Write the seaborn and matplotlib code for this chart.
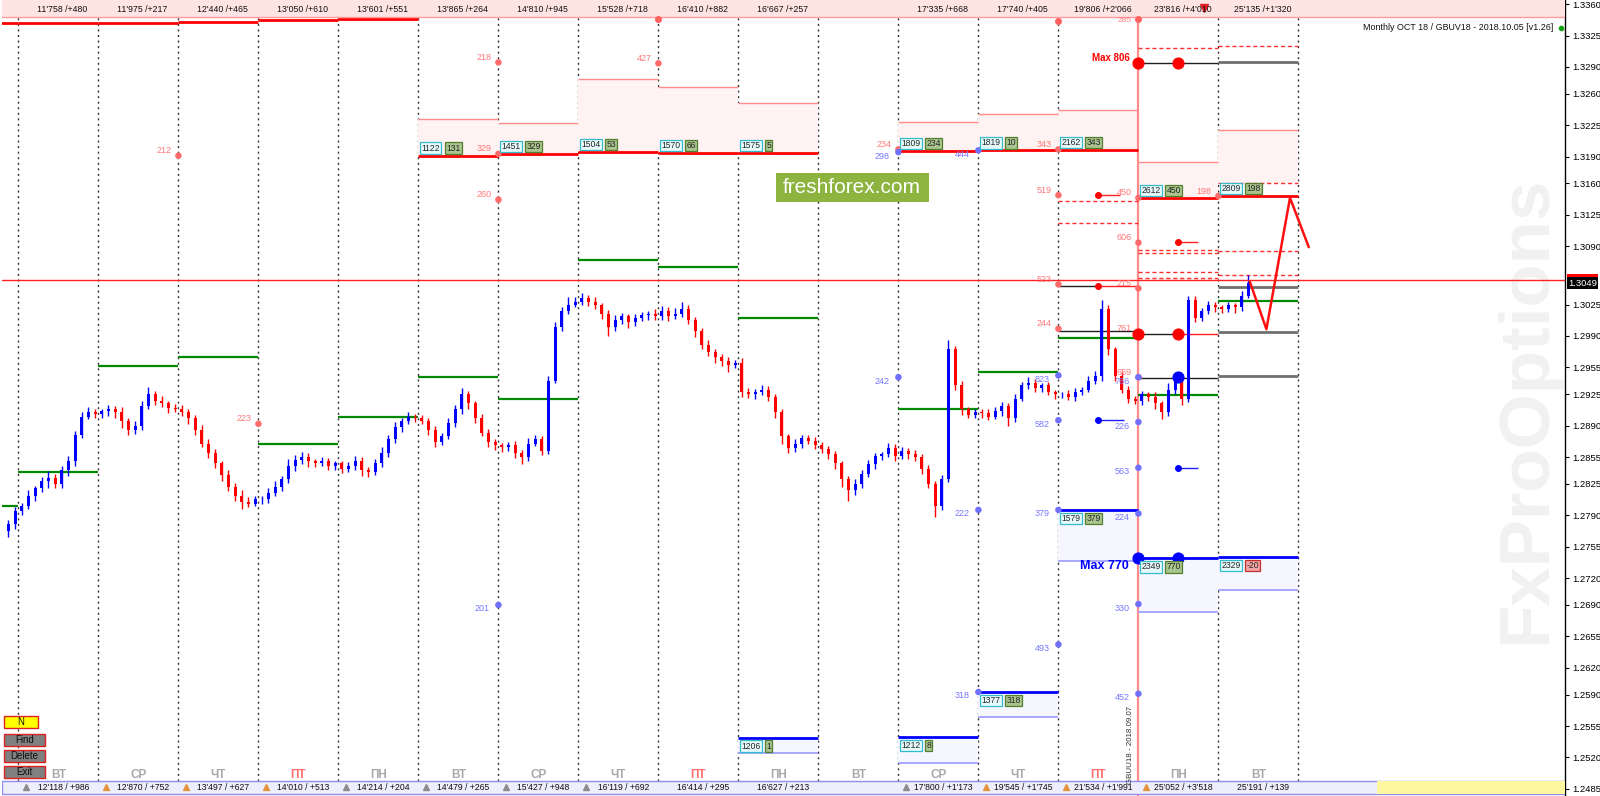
import numpy as np
import pandas as pd
import seaborn as sns
import matplotlib.pyplot as plt
from matplotlib.patches import Rectangle
import matplotlib.transforms as mtransforms

sns.set_style("white")
plt.rcParams['font.family'] = ['Liberation Sans', 'DejaVu Sans']

# --- candles: 2h bars, prices in pips (price * 10000) ---
first_open = 12772
closes = [
    12780, 12795,
    12800, 12812, 12820, 12828, 12832, 12825, 12840, 12850, 12880, 12900, 12905, 12903,
    12906, 12908, 12905, 12895, 12885, 12890, 12912, 12925, 12918, 12915, 12910, 12908,
    12905, 12898, 12885, 12870, 12860, 12848, 12835, 12822, 12812, 12805, 12803, 12808,
    12808, 12815, 12822, 12830, 12845, 12852, 12855, 12850, 12848, 12850, 12845, 12848,
    12842, 12845, 12850, 12840, 12838, 12848, 12860, 12875, 12888, 12895, 12900, 12898,
    12895, 12885, 12872, 12878, 12893, 12908, 12925, 12915, 12898, 12882, 12872, 12868,
    12866, 12868, 12860, 12855, 12870, 12875, 12862, 12940, 13000, 13018, 13025, 13028,
    13032, 13028, 13024, 13015, 13000, 13008, 13012, 13005, 13010, 13013, 13015, 13012,
    13018, 13012, 13015, 13020, 13008, 12995, 12980, 12972, 12966, 12962, 12958, 12960,
    12928, 12925, 12928, 12930, 12922, 12905, 12878, 12865, 12870, 12876, 12873, 12868,
    12864, 12858, 12848, 12830, 12818, 12825, 12836, 12847, 12856, 12858, 12865, 12856,
    12862, 12858, 12855, 12842, 12825, 12800, 12830, 12975, 12935, 12908, 12902, 12905,
    12904, 12900, 12906, 12912, 12898, 12920, 12935, 12938, 12932, 12935, 12927, 12925,
    12925, 12922, 12928, 12930, 12940, 12945, 13020, 12975, 12945, 12930, 12920, 12918,
    12925, 12922, 12915, 12905, 12930, 12940, 12920, 13030, 13010, 13018, 13025, 13022,
    13020, 13024, 13022, 13035, 13049,
]
wick_up = [
    5, 4,
    4, 6, 3, 5, 7, 4, 5, 6, 4, 5, 6, 3,
    3, 5, 4, 6, 4, 5, 6, 8, 4, 5, 3, 4,
    5, 3, 4, 6, 5, 4, 3, 5, 4, 6, 5, 4,
    4, 5, 6, 4, 8, 5, 6, 4, 3, 5, 4, 3,
    3, 4, 6, 5, 4, 5, 6, 5, 6, 4, 5, 3,
    4, 3, 5, 4, 6, 5, 7, 4, 3, 5, 4, 3,
    3, 4, 5, 3, 6, 4, 3, 5, 6, 4, 8, 5,
    6, 4, 5, 3, 4, 5, 4, 3, 5, 4, 3, 5,
    5, 4, 6, 8, 4, 3, 4, 5, 3, 4, 5, 3,
    5, 4, 3, 5, 4, 3, 4, 3, 5, 4, 3, 4,
    4, 3, 4, 3, 4, 5, 4, 5, 4, 3, 6, 4,
    4, 3, 5, 3, 4, 3, 5, 10, 4, 5, 3, 4,
    3, 4, 5, 4, 3, 5, 4, 6, 4, 3, 4, 3,
    3, 5, 4, 3, 5, 6, 10, 4, 3, 5, 4, 3,
    4, 3, 5, 3, 8, 4, 3, 5, 4, 3, 4, 3,
    3, 4, 3, 5, 9,
]
wick_dn = [
    6, 5,
    5, 3, 6, 4, 8, 5, 4, 6, 5, 4, 3, 5,
    4, 5, 6, 8, 6, 4, 5, 3, 5, 4, 6, 3,
    4, 6, 5, 4, 6, 5, 7, 5, 6, 8, 4, 3,
    5, 4, 3, 5, 4, 6, 5, 6, 4, 3, 5, 4,
    5, 4, 4, 6, 5, 3, 4, 5, 4, 5, 3, 4,
    3, 6, 6, 4, 3, 4, 5, 6, 5, 4, 6, 5,
    5, 4, 6, 8, 4, 3, 5, 4, 3, 5, 4, 3,
    4, 5, 4, 6, 10, 4, 5, 6, 4, 3, 5, 4,
    4, 5, 3, 4, 5, 6, 5, 4, 6, 5, 8, 4,
    6, 4, 5, 4, 5, 6, 8, 6, 4, 5, 3, 4,
    4, 5, 6, 8, 12, 5, 4, 3, 5, 4, 3, 5,
    3, 5, 4, 6, 5, 12, 4, 3, 5, 6, 4, 3,
    5, 4, 3, 5, 8, 4, 3, 4, 5, 4, 3, 5,
    4, 3, 5, 4, 3, 4, 5, 6, 5, 4, 5, 4,
    5, 4, 6, 8, 4, 5, 7, 4, 5, 3, 4, 5,
    4, 3, 6, 4, 3,
]

day_names = ['ВТ', 'СР', 'ЧТ', 'ПТ', 'ПН', 'ВТ', 'СР', 'ЧТ', 'ПТ', 'ПН',
             'ВТ', 'СР', 'ЧТ', 'ПТ', 'ПН', 'ВТ']
top_labels = ["11'758 /+480", "11'975 /+217", "12'440 /+465", "13'050 /+610",
              "13'601 /+551", "13'865 /+264", "14'810 /+945", "15'528 /+718",
              "16'410 /+882", "16'667 /+257", "", "17'335 /+668", "17'740 /+405",
              "19'806 /+2'066", "23'816 /+4'010", "25'135 /+1'320"]
bottom_labels = ["12'118 / +986", "12'870 / +752", "13'497 / +627", "14'010 / +513",
                 "14'214 / +204", "14'479 / +265", "15'427 / +948", "16'119 / +692",
                 "16'414 / +295", "16'627 / +213", "", "17'800 / +1'173",
                 "19'545 / +1'745", "21'534 / +1'991", "25'052 / +3'518", "25'191 / +139"]
bottom_arrows = ['g', 'o', 'o', 'o', 'g', 'g', 'g', 'g', '', '', '', 'g', 'o', 'o', 'o', '']

# daily open (green) levels
green_days = [-1, 0, 1, 2, 3, 4, 5, 6, 7, 8, 9, 11, 12, 13, 14, 15]
green_pips = [12800, 12838, 12956, 12967, 12869, 12900, 12944, 12920, 13075, 13067,
              13010, 12909, 12950, 12988, 12924, 13029]

# top step lines (cut by the header)
top_days = [-1, 0, 1, 2, 3, 4]
top_pips = [13339, 13339.5, 13339.5, 13340.5, 13342.5, 13343]

# sell zones
sell_days = [5, 6, 7, 8, 9, 11, 12, 13, 14, 15]
sell_level = [13191, 13193, 13195, 13194, 13194, 13196, 13197, 13197.5, 13144, 13146]
sell_top = [13232, 13227, 13277, 13268, 13250, 13229, 13237, 13242, 13184, 13219.5]
sell_fill_to = [13191, 13193, 13195, 13194, 13194, 13196, 13197, 13197.5, 13144, 13161]
sell_count = ['1122', '1451', '1504', '1570', '1575', '1809', '1819', '2162', '2612', '2809']
sell_delta = ['131', '329', '53', '66', '5', '234', '10', '343', '450', '198']

# buy zones
buy_days = [9, 11, 12, 13, 14, 15]
buy_level = [12542, 12543, 12593, 12796, 12742, 12743.5]
buy_bottom = [12525, 12514, 12565, 12739, 12682, 12707]
buy_count = ['1206', '1212', '1377', '1579', '2349', '2329']
buy_delta = ['1', '8', '318', '379', '770', '-20']

# option strike markers on day separators
red_mark_day = [2, 3, 6, 6, 6, 8, 11, 13, 13, 13, 13, 14, 14, 14, 14, 14, 15]
red_mark_pips = [13191, 12892, 13295, 13193, 13142, 13294, 13198, 13198, 13147, 13047.5,
                 12998, 13094, 13043, 12992.5, 12944, 13144, 13146]
red_mark_text = ['212', '223', '218', '329', '260', '427', '234', '343', '519', '523',
                 '244', '606', '215', '761', '659', '450', '198']
blue_mark_day = [6, 11, 11, 12, 12, 12, 13, 13, 13, 13, 14, 14, 14, 14, 14, 14]
blue_mark_pips = [12690, 12944, 13195, 13197, 12796, 12593, 12946, 12896, 12796, 12646,
                  12944, 12894, 12843, 12792, 12691, 12591]
blue_mark_text = ['201', '242', '298', '444', '222', '318', '823', '582', '379', '493',
                  '766', '226', '563', '224', '330', '452']

# short level segments (day from, day to, pips)
black_segs = [(13, 13.49, 13046), (13, 14, 12996), (14, 15, 13294), (14, 14.49, 12992.5),
              (14, 15, 12942.6)]
gray_segs = [(15, 16, 13295), (15, 16, 13044.5), (15, 16, 12994.3), (15, 16, 12945)]
red_segs = [(13.49, 14, 13046), (13.49, 13.77, 13147), (14.49, 14.74, 13095),
            (14.49, 15, 12992.5)]
blue_segs = [(13.49, 13.82, 12896), (14.49, 14.74, 12843)]
dashed_segs = [(13, 14, 13141), (13, 14, 13116), (14, 15, 13086), (14, 15, 13083),
               (14, 15, 13061), (14, 15, 13055), (15, 16, 13084.5), (15, 16, 13058),
               (14, 15, 13311), (15, 16, 13313), (15, 16, 13161)]
big_red_day = [14, 14.49, 14, 14.49]
big_red_pips = [13294, 13294, 12992.5, 12992.5]
big_blue_day = [14.49, 14, 14.49]
big_blue_pips = [12944, 12742, 12742]

# forecast path
fc_day = [15.395, 15.6, 15.895, 16.13]
fc_pips = [13050, 12997.5, 13144, 13089]

ask_pips, bid_pips = 13052, 13049
ytick_labels = ['1.3360', '1.3325', '1.3290', '1.3260', '1.3225', '1.3190', '1.3160',
                '1.3125', '1.3090', '1.3025', '1.2990', '1.2955', '1.2925', '1.2890',
                '1.2855', '1.2825', '1.2790', '1.2755', '1.2720', '1.2690', '1.2655',
                '1.2620', '1.2590', '1.2555', '1.2520', '1.2485']

P = 1e4
W, H = 1600, 796
fig = plt.figure(figsize=(W / 100, H / 100), dpi=100)
ax = fig.add_axes([2 / W, 0, 1563 / W, 1])
ax.set_xlim((2 - 18.4) / 80, (1565 - 18.4) / 80)
ax.set_ylim(12477.0 / P, 13364.6 / P)
bt = mtransforms.blended_transform_factory(ax.transData, ax.transAxes)


def fy(py):
    return 1 - py / H


# watermark and separators
ax.text(1527 / W, fy(410), 'FxProOptions', transform=fig.transFigure, rotation=90,
        fontsize=51, fontweight='bold', color='#f1f1f1', ha='center', va='center',
        zorder=0.5, clip_on=True)
for d in range(17):
    if d == 14:
        ax.axvline(d, color='#ff8a8a', lw=1.6, zorder=2)
    else:
        ax.axvline(d, ymin=fy(781), ymax=fy(17), color='#333333', lw=1,
                   linestyle=(0, (1.5, 2.5)), zorder=1)

# zones
for d, lv, tp, ft, c, dl in zip(sell_days, sell_level, sell_top, sell_fill_to, sell_count, sell_delta):
    ax.fill_between([d, d + 1], tp / P, ft / P, color='#fff2f2', lw=0, zorder=1)
    ax.hlines(tp / P, d, d + 1, color='#ff8c8c', lw=1, zorder=2)
    ax.hlines(lv / P, d, d + 1, color='#ff0000', lw=2, zorder=3)
    ax.annotate(c, xy=(d, lv / P), xytext=(3, 3), textcoords='offset pixels', ha='left',
                va='bottom', fontsize=6.2, zorder=8,
                bbox=dict(boxstyle='square,pad=0.15', fc='#e6fafc', ec='#35bccc', lw=0.9))
    ax.annotate(dl, xy=(d, lv / P), xytext=(28, 3), textcoords='offset pixels', ha='left',
                va='bottom', fontsize=6.2, zorder=8,
                bbox=dict(boxstyle='square,pad=0.15', fc='#a9c48c', ec='#4f7f2f', lw=0.9))
for d, lv, bm, c, dl in zip(buy_days, buy_level, buy_bottom, buy_count, buy_delta):
    ax.fill_between([d, d + 1], lv / P, bm / P, color='#f6f6ff', lw=0, zorder=1)
    ax.hlines(bm / P, d, d + 1, color='#9a9aff', lw=1.2, zorder=2)
    ax.hlines(lv / P, d, d + 1, color='#0000ff', lw=2, zorder=3)
    neg = dl.startswith('-')
    ax.annotate(c, xy=(d, lv / P), xytext=(3, -4), textcoords='offset pixels', ha='left',
                va='top', fontsize=6.2, zorder=8,
                bbox=dict(boxstyle='square,pad=0.15', fc='#e6fafc', ec='#35bccc', lw=0.9))
    ax.annotate(dl, xy=(d, lv / P), xytext=(28, -4), textcoords='offset pixels', ha='left',
                va='top', fontsize=6.2, zorder=8,
                bbox=dict(boxstyle='square,pad=0.15', fc='#f3a3a3' if neg else '#a9c48c',
                          ec='#c03030' if neg else '#4f7f2f', lw=0.9))

for d, pp in zip(green_days, green_pips):
    ax.hlines(pp / P, max(d, -0.25), d + 1, color='#008a00', lw=1.6, zorder=3)
for d, pp in zip(top_days, top_pips):
    ax.hlines(pp / P, max(d, -0.25), d + 1, color='#ff0000', lw=2, zorder=3)

for a, b, pp in black_segs:
    ax.hlines(pp / P, a, b, color='#202020', lw=1, zorder=3)
for a, b, pp in gray_segs:
    ax.hlines(pp / P, a, b, color='#707070', lw=2, zorder=3)
for a, b, pp in red_segs:
    ax.hlines(pp / P, a, b, color='#ff2020', lw=1, zorder=3)
    ax.plot(a, pp / P, 'o', color='#ff0000', ms=4, zorder=6)
for a, b, pp in blue_segs:
    ax.hlines(pp / P, a, b, color='#2020ff', lw=1, zorder=3)
    ax.plot(a, pp / P, 'o', color='#0000ff', ms=4, zorder=6)
for a, b, pp in dashed_segs:
    ax.hlines(pp / P, a, b, color='#ff3030', lw=1, linestyles=(0, (3, 2)), zorder=3)

# candles
df = pd.DataFrame({'close': np.array(closes) / P})
df['open'] = np.r_[first_open / P, df['close'].values[:-1]]
df['high'] = df[['open', 'close']].max(axis=1) + np.array(wick_up) / P
df['low'] = df[['open', 'close']].min(axis=1) - np.array(wick_dn) / P
df['x'] = (np.arange(len(df)) - 1.5) / 12
col = np.where(df['close'] >= df['open'], '#0000ff', '#ff0000')
body = (df['close'] - df['open']).where((df['close'] - df['open']).abs() > 0, 0.00004)
ax.vlines(df['x'], df['low'], df['high'], colors=col, lw=1, zorder=4)
ax.bar(df['x'], body, bottom=df['open'], width=0.036, color=col, lw=0, zorder=5)

# current price
ax.axhline(ask_pips / P, color='#ff2020', lw=1, zorder=6)

# markers
mk = pd.DataFrame({'d': red_mark_day, 'y': np.array(red_mark_pips) / P})
sns.scatterplot(data=mk, x='d', y='y', color='#ff6a6a', s=22, edgecolor='none', ax=ax, zorder=6)
for d, pp, t in zip(red_mark_day, red_mark_pips, red_mark_text):
    ax.annotate(t, xy=(d, pp / P), xytext=(-7, 5), textcoords='offset pixels', ha='right',
                va='center', fontsize=6.5, color='#ff7878', zorder=7)
mk = pd.DataFrame({'d': blue_mark_day, 'y': np.array(blue_mark_pips) / P})
sns.scatterplot(data=mk, x='d', y='y', color='#7070ff', s=22, edgecolor='none', ax=ax, zorder=6)
for d, pp, t in zip(blue_mark_day, blue_mark_pips, blue_mark_text):
    ax.annotate(t, xy=(d, pp / P), xytext=(-9, -4), textcoords='offset pixels', ha='right',
                va='center', fontsize=6.5, color='#7878ff', zorder=7)
ax.scatter(big_red_day, np.array(big_red_pips) / P, s=60, color='#ff0000', zorder=7)
ax.scatter(big_blue_day, np.array(big_blue_pips) / P, s=60, color='#0000ff', zorder=7)
ax.annotate('Max 806', xy=(14, 13294 / P), xytext=(-9, 5), textcoords='offset pixels',
            ha='right', va='center', fontsize=7, fontweight='bold', color='#ff0000', zorder=7)
ax.annotate('Max 770', xy=(14, 12742 / P), xytext=(-10, -8), textcoords='offset pixels',
            ha='right', va='center', fontsize=9, fontweight='bold', color='#0000ff', zorder=7)

fc = pd.DataFrame({'d': fc_day, 'y': np.array(fc_pips) / P})
sns.lineplot(data=fc, x='d', y='y', sort=False, color='#ff1010', lw=1.8, ax=ax, zorder=7)

# header and footer bands
ax.add_patch(Rectangle((0, fy(17)), 1, 17 / H, transform=ax.transAxes, fc='#ffe4e4',
                       ec='none', zorder=9))
ax.axhline(13345.6 / P, color='#ff9a9a', lw=1, zorder=9)
ax.add_patch(Rectangle((0, fy(794)), 1, 13 / H, transform=ax.transAxes, fc='#eeeefc',
                       ec='#9090ee', lw=1, zorder=9))
ax.add_patch(Rectangle(((1377 - 2) / 1563, fy(794)), 1 - (1377 - 2) / 1563, 13 / H,
                       transform=ax.transAxes, fc='#fff7a0', ec='none', zorder=9.5))
ax.plot([8, 13, 14], [fy(19), fy(21), fy(19)], 'o', color='#ff6060', ms=4,
        transform=bt, zorder=10)
ax.plot([14.82], [fy(8)], 'v', color='#e02020', ms=6, transform=bt, zorder=10)
ax.text(14 - 0.09, fy(21), '285', transform=bt, ha='right', va='center', fontsize=6,
        color='#ff8080', zorder=10)

for d in range(16):
    ax.text(d + 0.55, fy(9.5), top_labels[d], transform=bt, ha='center', va='center',
            fontsize=6.3, color='#101010', zorder=10)
    ax.text(d + 0.56, fy(787.5), bottom_labels[d], transform=bt, ha='center', va='center',
            fontsize=6.2, color='#101010', zorder=10)
    ax.text(d + 0.5, fy(775), day_names[d], transform=bt, ha='center', va='center',
            fontsize=8.5, fontweight='bold',
            color='#ff6a6a' if day_names[d] == 'ПТ' else '#a8a8a8', zorder=10)
    if bottom_arrows[d]:
        ax.plot(d + 0.1, fy(787), '^', ms=5, transform=bt, zorder=10,
                color='#8c8c8c' if bottom_arrows[d] == 'g' else '#e39540')

ax.text(13.9, fy(745), 'GBUU18 - 2018.09.07', transform=bt, rotation=90, ha='center',
        va='center', fontsize=5.7, color='#303030', zorder=10)

# overlays in pixel space
ax.add_patch(Rectangle((775.5 / W, fy(202)), 153 / W, 29 / H, transform=fig.transFigure,
                       fc='#8cb43e', ec='none', zorder=11))
ax.text(852 / W, fy(187.5), 'freshforex.com', transform=fig.transFigure, ha='center',
        va='center', fontsize=15, color='white', zorder=12)
ax.text(1553 / W, fy(27.5), 'Monthly OCT 18 / GBUV18 - 2018.10.05 [v1.26]',
        transform=fig.transFigure, ha='right', va='center', fontsize=6.4, color='#101010',
        zorder=12)
ax.plot([1561 / W], [fy(27.5)], 'o', color='#10a010', ms=3, transform=fig.transFigure,
        zorder=12, clip_on=False)
for name, x0, y0, w, fc_ in [('N', 4, 716, 34, '#ffff00'), ('Find', 4, 734, 41, '#808080'),
                             ('Delete', 4, 750, 41, '#808080'), ('Exit', 4, 766, 41, '#808080')]:
    ax.add_patch(Rectangle((x0 / W, fy(y0 + 12)), w / W, 12 / H, transform=fig.transFigure,
                           fc=fc_, ec='#e02020', lw=1, zorder=12))
    ax.text((x0 + w / 2) / W, fy(y0 + 6), name, transform=fig.transFigure, ha='center',
            va='center', fontsize=7, color='#101010', zorder=13)

# price axis
for s in ['top', 'left', 'bottom']:
    ax.spines[s].set_visible(False)
ax.spines['right'].set_color('black')
ax.spines['right'].set_linewidth(1)
ax.set_xticks([])
ax.yaxis.tick_right()
ax.set_yticks([float(t) for t in ytick_labels])
ax.set_yticklabels(ytick_labels)
ax.tick_params(axis='y', length=3, width=0.8, labelsize=6.8, pad=2, colors='black')
ax.set_xlabel('')
ax.set_ylabel('')
yt = mtransforms.blended_transform_factory(ax.transAxes, ax.transData)
ax.text(1.002, ask_pips / P + 0.00003, '1.3052', transform=yt, ha='left', va='center',
        fontsize=6.8, color='white',
        bbox=dict(boxstyle='square,pad=0.12', fc='#ff0000', ec='none'),
        clip_on=False, zorder=14)
ax.text(1.002, bid_pips / P, '1.3049', transform=yt, ha='left', va='center', fontsize=6.8,
        color='white', bbox=dict(boxstyle='square,pad=0.12', fc='#000000', ec='none'),
        clip_on=False, zorder=15)

fig.savefig('out.png', dpi=100)
